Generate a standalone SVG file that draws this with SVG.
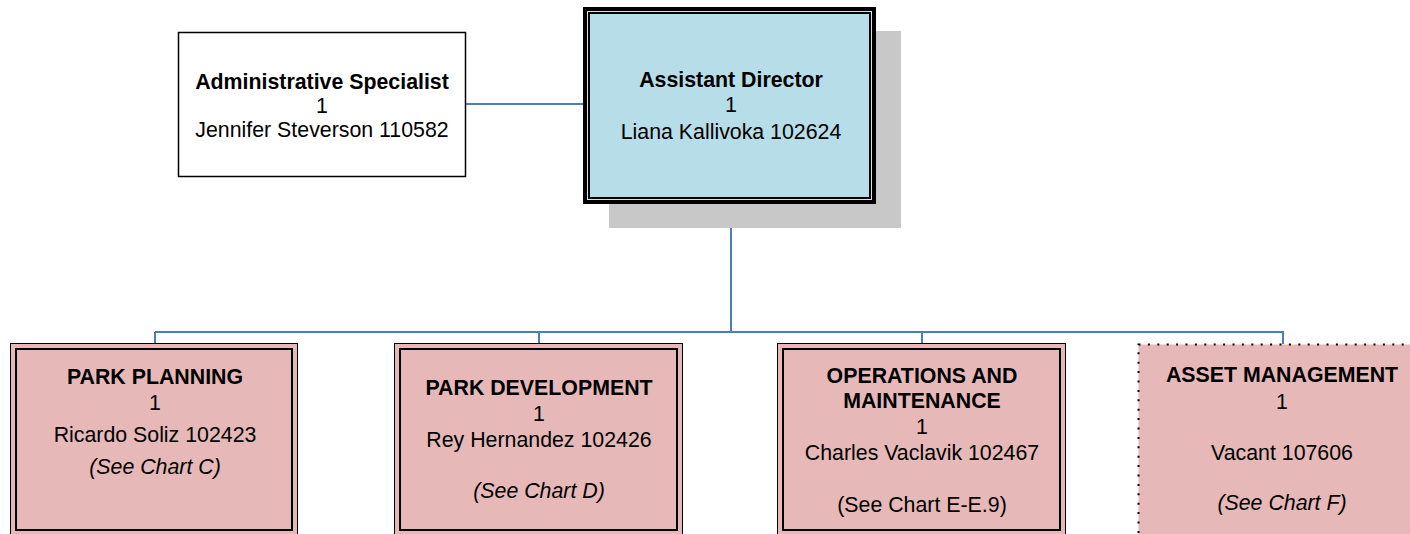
<svg xmlns="http://www.w3.org/2000/svg" width="1410" height="534" viewBox="0 0 1410 534">
<style>
text{font-family:"Liberation Sans",Arial,sans-serif;font-size:21.33px;fill:#000;text-anchor:middle}
.b{font-weight:bold}
.i{font-style:italic}
.conn{stroke:#4a7ebb;stroke-width:2;fill:none}
.pink{fill:#e6b9b8}
</style>
<g id="connectors">
<line class="conn" x1="466" y1="104" x2="585" y2="104"/>
<line class="conn" x1="731" y1="202" x2="731" y2="332"/>
<line class="conn" x1="155" y1="332" x2="1283" y2="332"/>
<line class="conn" x1="155" y1="332" x2="155" y2="344"/>
<line class="conn" x1="539" y1="332" x2="539" y2="344"/>
<line class="conn" x1="922" y1="332" x2="922" y2="344"/>
<line class="conn" x1="1283" y1="331" x2="1283" y2="344"/>
</g>
<g id="admin">
<rect x="178.5" y="32.5" width="287" height="144" fill="#fff" stroke="#000" stroke-width="1.5"/>
<text class="b" x="322" y="89">Administrative Specialist</text>
<text x="322" y="113">1</text>
<text x="322" y="137">Jennifer Steverson 110582</text>
</g>
<g id="assistant-director">
<rect x="609" y="31" width="292" height="197" fill="#c8c8c8"/>
<rect x="583" y="7" width="293" height="197" fill="#000"/>
<rect x="587" y="11" width="285" height="189" fill="#cfe8ee"/>
<rect x="588" y="12" width="283" height="187" fill="#000"/>
<rect x="590" y="14" width="279" height="183" fill="#b7dde8"/>
<text class="b" x="731" y="87">Assistant Director</text>
<text x="731" y="112">1</text>
<text x="731" y="139">Liana Kallivoka 102624</text>
</g>
<g id="park-planning">
<rect class="pink" x="10.5" y="343.5" width="287" height="200" stroke="#000" stroke-width="1"/>
<rect x="16" y="349" width="276" height="181" fill="none" stroke="#000" stroke-width="2"/>
<text class="b" x="155" y="384">PARK PLANNING</text>
<text x="155" y="410">1</text>
<text x="155" y="442">Ricardo Soliz 102423</text>
<text class="i" x="155" y="474">(See Chart C)</text>
</g>
<g id="park-development">
<rect class="pink" x="394.5" y="343.5" width="288" height="200" stroke="#000" stroke-width="1"/>
<rect x="400" y="349" width="277" height="181" fill="none" stroke="#000" stroke-width="2"/>
<text class="b" x="539" y="395">PARK DEVELOPMENT</text>
<text x="539" y="421">1</text>
<text x="539" y="447">Rey Hernandez 102426</text>
<text class="i" x="539" y="498">(See Chart D)</text>
</g>
<g id="operations-maintenance">
<rect class="pink" x="777.5" y="343.5" width="288" height="200" stroke="#000" stroke-width="1"/>
<rect x="783" y="349" width="277" height="181" fill="none" stroke="#000" stroke-width="2"/>
<text class="b" x="922" y="383">OPERATIONS AND</text>
<text class="b" x="922" y="408">MAINTENANCE</text>
<text x="922" y="434">1</text>
<text x="922" y="460">Charles Vaclavik 102467</text>
<text x="922" y="512">(See Chart E-E.9)</text>
</g>
<g id="asset-management">
<rect class="pink" x="1138.5" y="344.5" width="289" height="200" stroke="#000" stroke-width="2" stroke-dasharray="2 7.4"/>
<text class="b" x="1282" y="382">ASSET MANAGEMENT</text>
<text x="1282" y="409">1</text>
<text x="1282" y="460">Vacant 107606</text>
<text class="i" x="1282" y="510">(See Chart F)</text>
</g>
</svg>
